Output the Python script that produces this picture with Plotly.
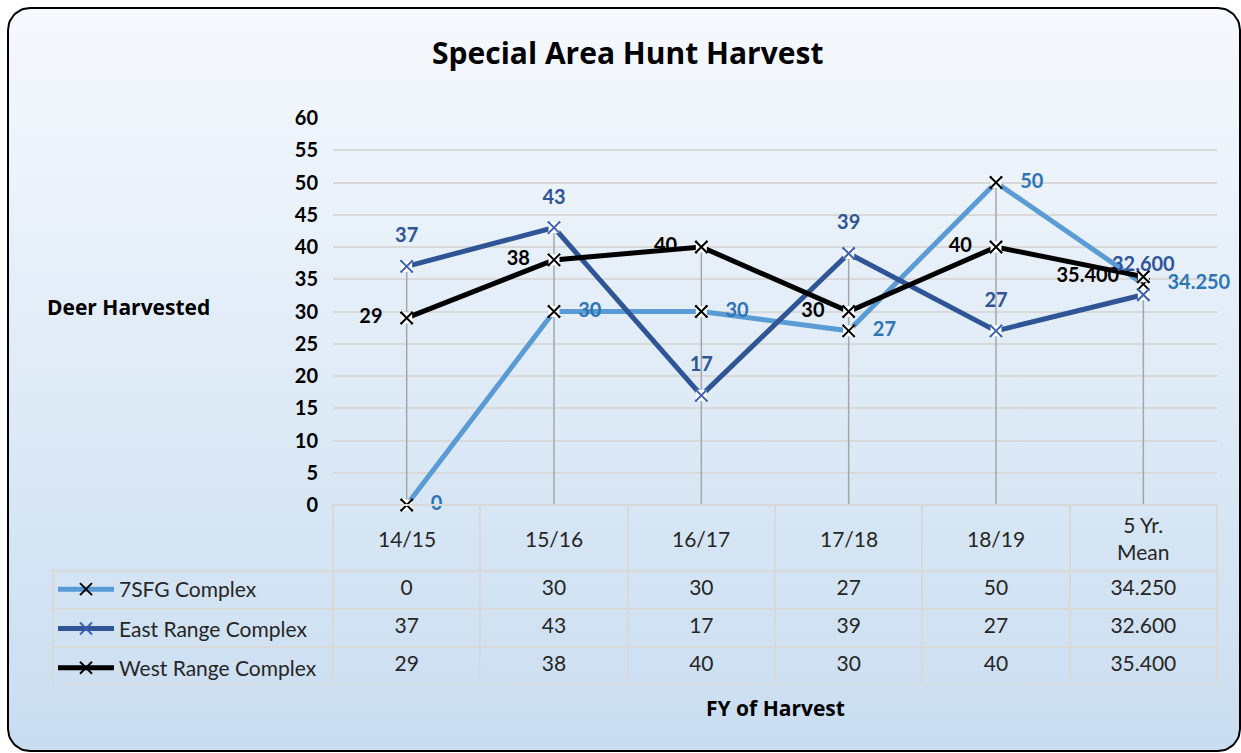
import numpy as np
import plotly.graph_objects as go

# ---------------- data ----------------
categories = ["14/15", "15/16", "16/17", "17/18", "18/19", "5 Yr.<br>Mean"]
series_names = ["7SFG Complex", "East Range Complex", "West Range Complex"]
sfg_values = [0, 30, 30, 27, 50, 34.25]
east_values = [37, 43, 17, 39, 27, 32.6]
west_values = [29, 38, 40, 30, 40, 35.4]
y_ticks = list(range(0, 61, 5))

title_text = "Special Area Hunt Harvest"
y_title = "Deer Harvested"
x_title = "FY of Harvest"

# ---------------- styles ----------------
W, H = 1241, 753
FONT = "Lato"
TFONT = "Open Sans"
line_colors = ["#5b9bd5", "#2f5597", "#000000"]
marker_colors = ["#000000", "#3b62b0", "#000000"]
label_colors = ["#2e75b6", "#2f5597", "#000000"]
label_pos = ["middle right", "top center", "middle left"]
label_msize = [37, 29, 37]
TXT = "#262626"
GRID = "#d9d9d9"


def fmt(v, i):
    return f"{v:.3f}" if i == len(categories) - 1 else f"{v:g}"


series = [sfg_values, east_values, west_values]

# plot-area pixel geometry
PL, PR, PT, PB = 333, 1217, 118, 505
TL, TB = 53, 685
HDR = 66


def px(x):
    return x / W


def py(y):
    return (H - y) / H


fig = go.Figure()

# ---- background rounded frame with vertical gradient (axes x/y = pixel space) ----
x0, y0, x1, y1, r = 8, 8, 1240, 751, 22
bx, by = [], []
for cx, cy, a0, a1 in [(x0 + r, y0 + r, np.pi, 1.5 * np.pi),
                       (x1 - r, y0 + r, 1.5 * np.pi, 2 * np.pi),
                       (x1 - r, y1 - r, 0, 0.5 * np.pi),
                       (x0 + r, y1 - r, 0.5 * np.pi, np.pi)]:
    t = np.linspace(a0, a1, 16)
    bx += list(cx + r * np.cos(t))
    by += list(cy + r * np.sin(t))
bx.append(bx[0])
by.append(by[0])
fig.add_trace(go.Scatter(
    x=bx, y=by, mode="lines", fill="toself",
    fillgradient=dict(type="vertical", start=y0, stop=y1,
                      colorscale=[[0, "#f6f9fd"], [1, "#c9ddf0"]]),
    line=dict(color="black", width=2), hoverinfo="skip", showlegend=False,
    xaxis="x", yaxis="y"))

# ---- drop lines ----
dx, dy = [], []
for i, c in enumerate(categories):
    top = max(s[i] for s in series)
    dx += [c, c, None]
    dy += [0, top, None]
fig.add_trace(go.Scatter(x=dx, y=dy, mode="lines", line=dict(color="#a6a6a6", width=1.5),
                         hoverinfo="skip", showlegend=False, xaxis="x2", yaxis="y2"))

# ---- series ----
for k, (name, vals) in enumerate(zip(series_names, series)):
    fig.add_trace(go.Scatter(
        x=categories, y=vals, name=name, mode="lines+markers",
        line=dict(color=line_colors[k], width=5),
        marker=dict(symbol="x-thin", size=12, line=dict(color=marker_colors[k], width=2)),
        legendgroup=name, xaxis="x2", yaxis="y2", cliponaxis=False))
    # white marker box (Excel-style marker fill)
    fig.add_trace(go.Scatter(
        x=categories, y=vals, mode="markers",
        marker=dict(symbol="square", size=11, color="white"),
        hoverinfo="skip", showlegend=False, xaxis="x2", yaxis="y2", cliponaxis=False))
    fig.add_trace(go.Scatter(
        x=categories, y=vals, mode="markers",
        marker=dict(symbol="x-thin", size=12, line=dict(color=marker_colors[k], width=2)),
        hoverinfo="skip", showlegend=False, xaxis="x2", yaxis="y2", cliponaxis=False))

# ---- data labels ----
for k, vals in enumerate(series):
    fig.add_trace(go.Scatter(
        x=categories, y=vals, mode="markers+text",
        text=[fmt(v, i) for i, v in enumerate(vals)],
        textposition=label_pos[k],
        textfont=dict(family=FONT, size=20, color=label_colors[k], weight="bold"),
        marker=dict(size=label_msize[k], color="rgba(0,0,0,0)"),
        hoverinfo="skip", showlegend=False, xaxis="x2", yaxis="y2", cliponaxis=False))

# ---- data table ----
ncat = len(categories)
cell_cols = [[""] * len(series)]
for i in range(ncat):
    cell_cols.append([fmt(s[i], i) for s in series])
colw = [PL - TL] + [(PR - PL) / ncat] * ncat
fig.add_trace(go.Table(
    domain=dict(x=[px(TL), px(PR)], y=[py(TB), py(PB)]),
    columnwidth=colw,
    header=dict(values=[""] * (ncat + 1), height=HDR,
                fill=dict(color="rgba(0,0,0,0)"),
                line=dict(color=["rgba(0,0,0,0)"] + [GRID] * ncat, width=2)),
    cells=dict(values=cell_cols, height=38, align="center",
               fill=dict(color="rgba(0,0,0,0)"),
               line=dict(color=GRID, width=2),
               font=dict(family=FONT, size=21, color=TXT))))

# ---- category header labels ----
annotations = []
for c in categories:
    annotations.append(dict(x=c, xref="x2", y=py(PB + HDR / 2), yref="paper",
                            text=c, showarrow=False, yanchor="middle",
                            font=dict(family=FONT, size=21, color=TXT)))
annotations.append(dict(x=px(627), y=py(52), xref="paper", yref="paper", text=title_text,
                        showarrow=False, yanchor="middle",
                        font=dict(family=TFONT, size=30, color="black", weight="bold")))
annotations.append(dict(x=px(45), y=py(307), xref="paper", yref="paper", text=y_title,
                        showarrow=False, xanchor="left", yanchor="middle",
                        font=dict(family=TFONT, size=21, color="black", weight="bold")))
annotations.append(dict(x=px((PL + PR) / 2), y=py(708), xref="paper", yref="paper", text=x_title,
                        showarrow=False, yanchor="middle",
                        font=dict(family=TFONT, size=21, color="black", weight="bold")))

fig.update_layout(
    width=W, height=H, autosize=False,
    margin=dict(l=0, r=0, t=0, b=0, autoexpand=False),
    paper_bgcolor="white", plot_bgcolor="rgba(0,0,0,0)",
    xaxis=dict(domain=[0, 1], range=[0, W], visible=False, fixedrange=True, automargin=False),
    yaxis=dict(domain=[0, 1], range=[H, 0], visible=False, fixedrange=True, automargin=False),
    xaxis2=dict(domain=[px(PL), px(PR)], anchor="y2", type="category",
                categoryorder="array", categoryarray=categories,
                range=[-0.5, ncat - 0.5], showticklabels=False, showgrid=False,
                zeroline=False, showline=False, automargin=False),
    yaxis2=dict(domain=[py(PB), py(PT)], anchor="x2", range=[0, 60],
                tickvals=y_ticks, showgrid=True, gridcolor=GRID, gridwidth=2,
                zeroline=False, showline=False, ticks="", automargin=False,
                ticklabelstandoff=14,
                tickfont=dict(family=FONT, size=20, color="black", weight="bold")),
    showlegend=True,
    legend=dict(x=px(TL), y=py(569), xanchor="left", yanchor="top",
                bgcolor="rgba(0,0,0,0)", borderwidth=0,
                traceorder="grouped", tracegroupgap=9, itemwidth=56,
                font=dict(family=FONT, size=21, color=TXT)),
    annotations=annotations,
)

fig.write_html("out.html", post_script="document.body.style.margin='0';",
               config={"displayModeBar": False})
